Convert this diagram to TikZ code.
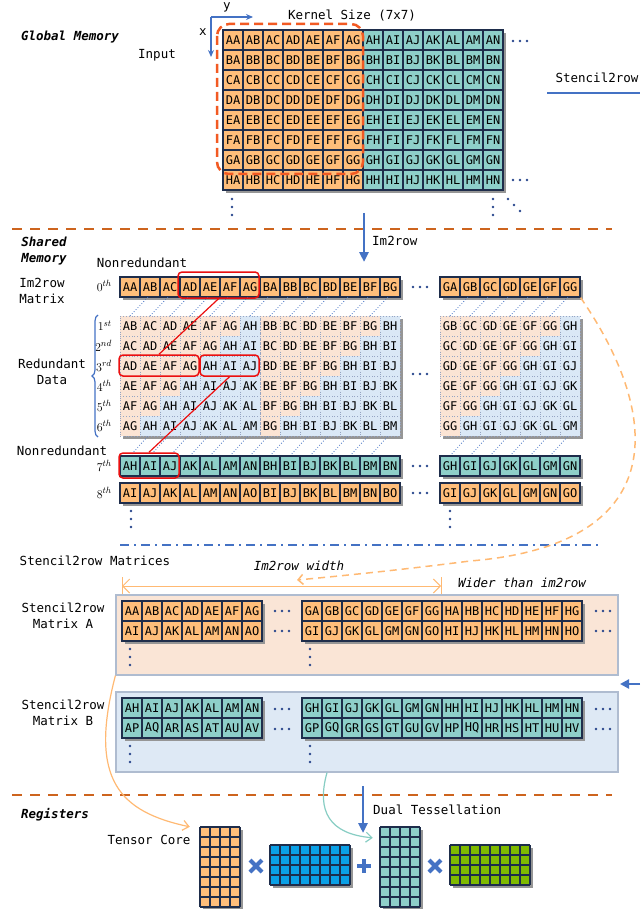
\documentclass[tikz,border=0pt]{standalone}
\usepackage[no-math]{fontspec}
\setmonofont{DejaVu Sans Mono}
\usetikzlibrary{arrows.meta,decorations.pathreplacing}
\definecolor{cO}{RGB}{255,190,122}
\definecolor{cT}{RGB}{142,207,201}
\definecolor{navy}{RGB}{30,45,75}
\definecolor{pk}{RGB}{251,228,212}
\definecolor{lb}{RGB}{218,232,246}
\definecolor{shd}{RGB}{150,150,150}
\definecolor{sep}{RGB}{205,100,30}
\definecolor{kern}{RGB}{242,90,35}
\definecolor{bl}{RGB}{68,114,196}
\definecolor{lor}{RGB}{255,185,115}
\definecolor{tl}{RGB}{135,205,195}
\definecolor{bm}{RGB}{10,160,230}
\definecolor{gr}{RGB}{127,186,0}
\definecolor{rd}{RGB}{235,15,15}
\definecolor{colA}{RGB}{250,229,214}
\definecolor{colB}{RGB}{222,233,245}
\definecolor{pbd}{RGB}{175,188,208}
\definecolor{dotc}{RGB}{150,165,195}
\definecolor{dd}{RGB}{40,70,140}
\newcommand\Lt[1]{\ifcase\numexpr#1\relax A\or B\or C\or D\or E\or F\or G\or H\or I\or J\or K\or L\or M\or N\or O\or P\or Q\or R\or S\or T\or U\or V\fi}
\newcommand\hd[2]{\fill[dd] (#1-7,#2) circle[radius=1.3pt] (#1,#2) circle[radius=1.3pt] (#1+7,#2) circle[radius=1.3pt];}
\newcommand\vd[2]{\fill[dd] (#1,#2-8) circle[radius=1.3pt] (#1,#2) circle[radius=1.3pt] (#1,#2+8) circle[radius=1.3pt];}
\begin{document}
\begin{tikzpicture}[x=1pt,y=-1pt,
  cell/.style={draw=navy, line width=1.1pt, minimum size=20pt, inner sep=0pt, font=\ttfamily\fontsize{12}{12}\selectfont},
  rcell/.style={draw=dotc, dotted, line width=0.8pt, minimum size=20pt, inner sep=0pt, font=\ttfamily\fontsize{12}{12}\selectfont},
  lbl/.style={font=\ttfamily\fontsize{12.5}{15.5}\selectfont, align=center, inner sep=0pt},
  hdr/.style={font=\ttfamily\bfseries\itshape\fontsize{12.5}{15.5}\selectfont, align=center, inner sep=0pt},
  itl/.style={font=\ttfamily\itshape\fontsize{12.5}{15.5}\selectfont, inner sep=0pt},
  ord/.style={font=\fontsize{13}{13}\selectfont, anchor=east, inner sep=0pt},
  redbox/.style={draw=rd, line width=1.5pt, rounded corners=4pt, inner sep=0pt},
  hatch/.style={bl, dotted, line width=0.8pt},
  sepline/.style={sep, line width=2pt, dash pattern=on 10pt off 8pt},
  panel/.style={draw=pbd, line width=1.2pt, minimum width=502pt, minimum height=80pt, inner sep=0pt},
  bigarrow/.style={bl, line width=2.5pt, -{Triangle[length=10pt,width=9pt]}},
  mat/.style={draw=navy, line width=1.1pt}
]
\useasboundingbox (0,0) rectangle (640,909);

% ---------------- Global memory ----------------
\node[hdr] (gm) at (70,37) {Global Memory};
\node[lbl] (inp) at (157,55) {Input};
\node[lbl] (ks) at (352,16) {Kernel Size (7x7)};
\coordinate (ax0) at (211,17);
\coordinate (axy) at (253,17);
\coordinate (axx) at (211,57);
\draw[bl, line width=1.2pt, -{Stealth[length=7pt,width=6pt]}] (ax0) -- (axy);
\draw[bl, line width=1.2pt, -{Stealth[length=7pt,width=6pt]}] (ax0) -- (axx);
\node[lbl] (ly) at (227,7) {y};
\node[lbl] (lx) at (203,32) {x};

\fill[shd] (226,33) rectangle (506,193);
\foreach \r in {0,...,7}{\foreach \c in {0,...,13}{
  \ifnum\c<7 \def\fc{cO}\else\def\fc{cT}\fi
  \node[cell,fill=\fc] (in\r-\c) at (233+20*\c,40+20*\r) {\Lt{\r}\Lt{\c}};
}}
\draw[kern, line width=2.5pt, dash pattern=on 9pt off 5pt, rounded corners=12pt] (217,24) rectangle (363,174);
\hd{520}{41}
\hd{520}{180}
\vd{232}{207}
\vd{493}{207}
\fill[dd] (508,199) circle[radius=1.3pt] (514,205) circle[radius=1.3pt] (520,211) circle[radius=1.3pt];

\node[lbl] (s2r) at (597,78) {Stencil2row};
\coordinate (s2a) at (547,93);
\coordinate (s2b) at (640,93);
\draw[bl, line width=2.5pt] (s2a) -- (s2b);

\draw[sepline] (12,229) -- (612,229);
\coordinate (ima) at (364,213);
\coordinate (imb) at (364,262);
\draw[bigarrow] (ima) -- (imb);
\node[lbl, anchor=west] (im2r) at (372,241) {Im2row};

% ---------------- Shared memory ----------------
\node[hdr] (sm) at (44,251) {Shared\\Memory};
\node[lbl] (nr1) at (142,263) {Nonredundant};
\node[lbl] (imm) at (42,291) {Im2row\\Matrix};
\node[lbl] (rdd) at (52,372) {Redundant\\Data};
\node[lbl] (nr2) at (62,451) {Nonredundant};

% row 0
\fill[shd] (123,280) rectangle (403,300);
\fill[shd] (443,280) rectangle (583,300);
\foreach \j in {0,...,6}{
  \node[cell,fill=cO] (z-a\j) at (130+20*\j,287) {A\Lt{\j}};
  \node[cell,fill=cO] (z-b\j) at (270+20*\j,287) {B\Lt{\j}};
  \node[cell,fill=cO] (z-g\j) at (450+20*\j,287) {G\Lt{\j}};
}
\hd{420}{287}
\node[ord] (o0) at (112,286) {$0^{th}$};

% redundant rows
\fill[shd] (123,319) rectangle (403,439);
\fill[shd] (443,319) rectangle (583,439);
\foreach \k in {1,...,6}{\foreach \j in {0,...,6}{
  \pgfmathtruncatemacro\idx{\j+\k}
  \ifnum\idx<7 \def\fc{pk}\else\def\fc{lb}\fi
  \node[rcell,fill=\fc] (r\k-a\j) at (130+20*\j,306+20*\k) {A\Lt{\idx}};
  \node[rcell,fill=\fc] (r\k-b\j) at (270+20*\j,306+20*\k) {B\Lt{\idx}};
  \node[rcell,fill=\fc] (r\k-g\j) at (450+20*\j,306+20*\k) {G\Lt{\idx}};
}}
\hd{420}{374}
\node[ord] (o1) at (112,326) {$1^{st}$};
\node[ord] (o2) at (112,346) {$2^{nd}$};
\node[ord] (o3) at (112,366) {$3^{rd}$};
\node[ord] (o4) at (112,386) {$4^{th}$};
\node[ord] (o5) at (112,406) {$5^{th}$};
\node[ord] (o6) at (112,426) {$6^{th}$};
\draw[bl, line width=1.2pt, decorate, decoration={brace, amplitude=6pt}] (98,437) -- (98,315);

% hatching
\foreach \j in {0,...,12}{
  \draw[hatch] (130+20*\j,316) -- (148+20*\j,297);
  \draw[hatch] (130+20*\j,456) -- (148+20*\j,436);
}
\foreach \j in {0,...,5}{
  \draw[hatch] (450+20*\j,316) -- (468+20*\j,297);
  \draw[hatch] (450+20*\j,456) -- (468+20*\j,436);
}

% row 7 and 8
\fill[shd] (123,459) rectangle (403,479);
\fill[shd] (443,459) rectangle (583,479);
\fill[shd] (123,486) rectangle (403,506);
\fill[shd] (443,486) rectangle (583,506);
\foreach \j in {0,...,6}{
  \pgfmathtruncatemacro\ia{\j+7}
  \pgfmathtruncatemacro\ib{\j+8}
  \node[cell,fill=cT] (s-a\j) at (130+20*\j,466) {A\Lt{\ia}};
  \node[cell,fill=cT] (s-b\j) at (270+20*\j,466) {B\Lt{\ia}};
  \node[cell,fill=cT] (s-g\j) at (450+20*\j,466) {G\Lt{\ia}};
  \node[cell,fill=cO] (e-a\j) at (130+20*\j,493) {A\Lt{\ib}};
  \node[cell,fill=cO] (e-b\j) at (270+20*\j,493) {B\Lt{\ib}};
  \node[cell,fill=cO] (e-g\j) at (450+20*\j,493) {G\Lt{\ib}};
}
\hd{420}{466}
\hd{420}{493}
\node[ord] (o7) at (112,466) {$7^{th}$};
\node[ord] (o8) at (112,493) {$8^{th}$};
\vd{131}{519}
\vd{450}{519}

% red boxes
\node[redbox, minimum width=81pt, minimum height=26pt] (rb0) at (218.5,285) {};
\node[redbox, minimum width=80pt, minimum height=21pt] (rb3a) at (159,365.5) {};
\node[redbox, minimum width=59pt, minimum height=21pt] (rb3b) at (229.5,365.5) {};
\node[redbox, minimum width=60pt, minimum height=25pt] (rb7) at (149,465.5) {};
\draw[rd, line width=1.2pt] (rb0.south) -- (rb3a.north);
\draw[rd, line width=1.2pt] (rb3b.south) -- (rb7.north);

% dash-dot separator
\draw[bl, line width=1.8pt, dash pattern=on 9pt off 5pt on 2pt off 5pt] (120,545) -- (602,545);

% ---------------- Stencil2row ----------------
\node[lbl] (s2m) at (95,561) {Stencil2row Matrices};
\node[itl] (iw) at (299,566) {Im2row width};
\node[itl] (wt) at (522,583) {Wider than im2row};
\coordinate (wa) at (122,586);
\coordinate (wb) at (441,586);
\draw[lor, line width=1pt, {Straight Barb[length=7pt,width=14pt]}-{Straight Barb[length=7pt,width=14pt]}] (wa) -- (wb);
\draw[lor, line width=1pt] (122,577) -- (122,596) (441,577) -- (441,596);
\coordinate (dcend) at (297,580);
\draw[lor, line width=1.5pt, dash pattern=on 7pt off 5pt, -{Straight Barb[length=5pt,width=10pt]}]
  (z-g6.south east) .. controls (665,420) and (668,545) .. (470,561) .. controls (400,570) and (340,576) .. (dcend);

\node[panel, fill=colA] (pA) at (367,635) {};
\node[panel, fill=colB] (pB) at (367,732) {};
\node[lbl] (mA) at (63,616) {Stencil2row\\Matrix A};
\node[lbl] (mB) at (63,713) {Stencil2row\\Matrix B};

\fill[shd] (125,604) rectangle (265,644);
\fill[shd] (305,604) rectangle (585,644);
\fill[shd] (125,701) rectangle (265,741);
\fill[shd] (305,701) rectangle (585,741);
\foreach \j in {0,...,6}{
  \pgfmathtruncatemacro\ia{\j+8}
  \pgfmathtruncatemacro\ib{\j+7}
  \pgfmathtruncatemacro\ic{\j+15}
  \node[cell,fill=cO] (a1-a\j) at (132+20*\j,611) {A\Lt{\j}};
  \node[cell,fill=cO] (a1-g\j) at (312+20*\j,611) {G\Lt{\j}};
  \node[cell,fill=cO] (a1-h\j) at (452+20*\j,611) {H\Lt{\j}};
  \node[cell,fill=cO] (a2-a\j) at (132+20*\j,631) {A\Lt{\ia}};
  \node[cell,fill=cO] (a2-g\j) at (312+20*\j,631) {G\Lt{\ia}};
  \node[cell,fill=cO] (a2-h\j) at (452+20*\j,631) {H\Lt{\ia}};
  \node[cell,fill=cT] (b1-a\j) at (132+20*\j,708) {A\Lt{\ib}};
  \node[cell,fill=cT] (b1-g\j) at (312+20*\j,708) {G\Lt{\ib}};
  \node[cell,fill=cT] (b1-h\j) at (452+20*\j,708) {H\Lt{\ib}};
  \node[cell,fill=cT] (b2-a\j) at (132+20*\j,728) {A\Lt{\ic}};
  \node[cell,fill=cT] (b2-g\j) at (312+20*\j,728) {G\Lt{\ic}};
  \node[cell,fill=cT] (b2-h\j) at (452+20*\j,728) {H\Lt{\ic}};
}
\hd{282}{611} \hd{282}{631} \hd{603}{611} \hd{603}{631}
\hd{282}{709} \hd{282}{729} \hd{603}{709} \hd{603}{729}
\vd{130}{657} \vd{310}{657}
\vd{130}{754} \vd{310}{754}
\coordinate (ra1) at (640,684);
\coordinate (ra2) at (620,684);
\draw[bl, line width=2.5pt, -{Triangle[length=9pt,width=9pt]}] (ra1) -- (ra2);

% ---------------- Registers ----------------
\draw[sepline] (12,795) -- (612,795);
\node[hdr] (reg) at (55,815) {Registers};
\node[lbl] (tc) at (149,840) {Tensor Core};
\node[lbl, anchor=west] (dt) at (373,810) {Dual Tessellation};
\coordinate (dta) at (363,786);
\coordinate (dtb) at (363,833);
\draw[bigarrow] (dta) -- (dtb);

\node[minimum width=40pt, minimum height=80pt, inner sep=0pt] (mO) at (220,867) {};
\node[minimum width=80pt, minimum height=40pt, inner sep=0pt] (mBl) at (310,865) {};
\node[minimum width=40pt, minimum height=80pt, inner sep=0pt] (mT) at (400,867) {};
\node[minimum width=80pt, minimum height=40pt, inner sep=0pt] (mG) at (490,865) {};
\fill[shd] (203,830) rectangle (243,910);
\fill[shd] (273,848) rectangle (353,888);
\fill[shd] (383,830) rectangle (423,910);
\fill[shd] (453,848) rectangle (533,888);
\begin{scope}[shift={(200,827)}]
  \fill[cO] (0,0) rectangle (40,80);
  \draw[mat, step=10pt] (0,0) grid (40,80);
\end{scope}
\begin{scope}[shift={(270,845)}]
  \fill[bm] (0,0) rectangle (80,40);
  \draw[mat, step=10pt] (0,0) grid (80,40);
\end{scope}
\begin{scope}[shift={(380,827)}]
  \fill[cT] (0,0) rectangle (40,80);
  \draw[mat, step=10pt] (0,0) grid (40,80);
\end{scope}
\begin{scope}[shift={(450,845)}]
  \fill[gr] (0,0) rectangle (80,40);
  \draw[mat, step=10pt] (0,0) grid (80,40);
\end{scope}
\draw[bl, line width=4pt] (250,860) -- (262,872) (250,872) -- (262,860);
\draw[bl, line width=4pt] (357,866) -- (371,866) (364,859) -- (364,873);
\draw[bl, line width=4pt] (429,860) -- (441,872) (429,872) -- (441,860);

\draw[lor, line width=1.2pt, -{Straight Barb[length=6pt,width=10pt]}]
  (pA.south west) .. controls (88,780) and (120,812) .. ([xshift=-10pt]mO.north west);
\draw[tl, line width=1.2pt, -{Straight Barb[length=6pt,width=10pt]}]
  ([xshift=-40pt]pB.south) .. controls (316,812) and (330,834) .. ([xshift=-7pt,yshift=-11pt]mT.north west);
\end{tikzpicture}
\end{document}
